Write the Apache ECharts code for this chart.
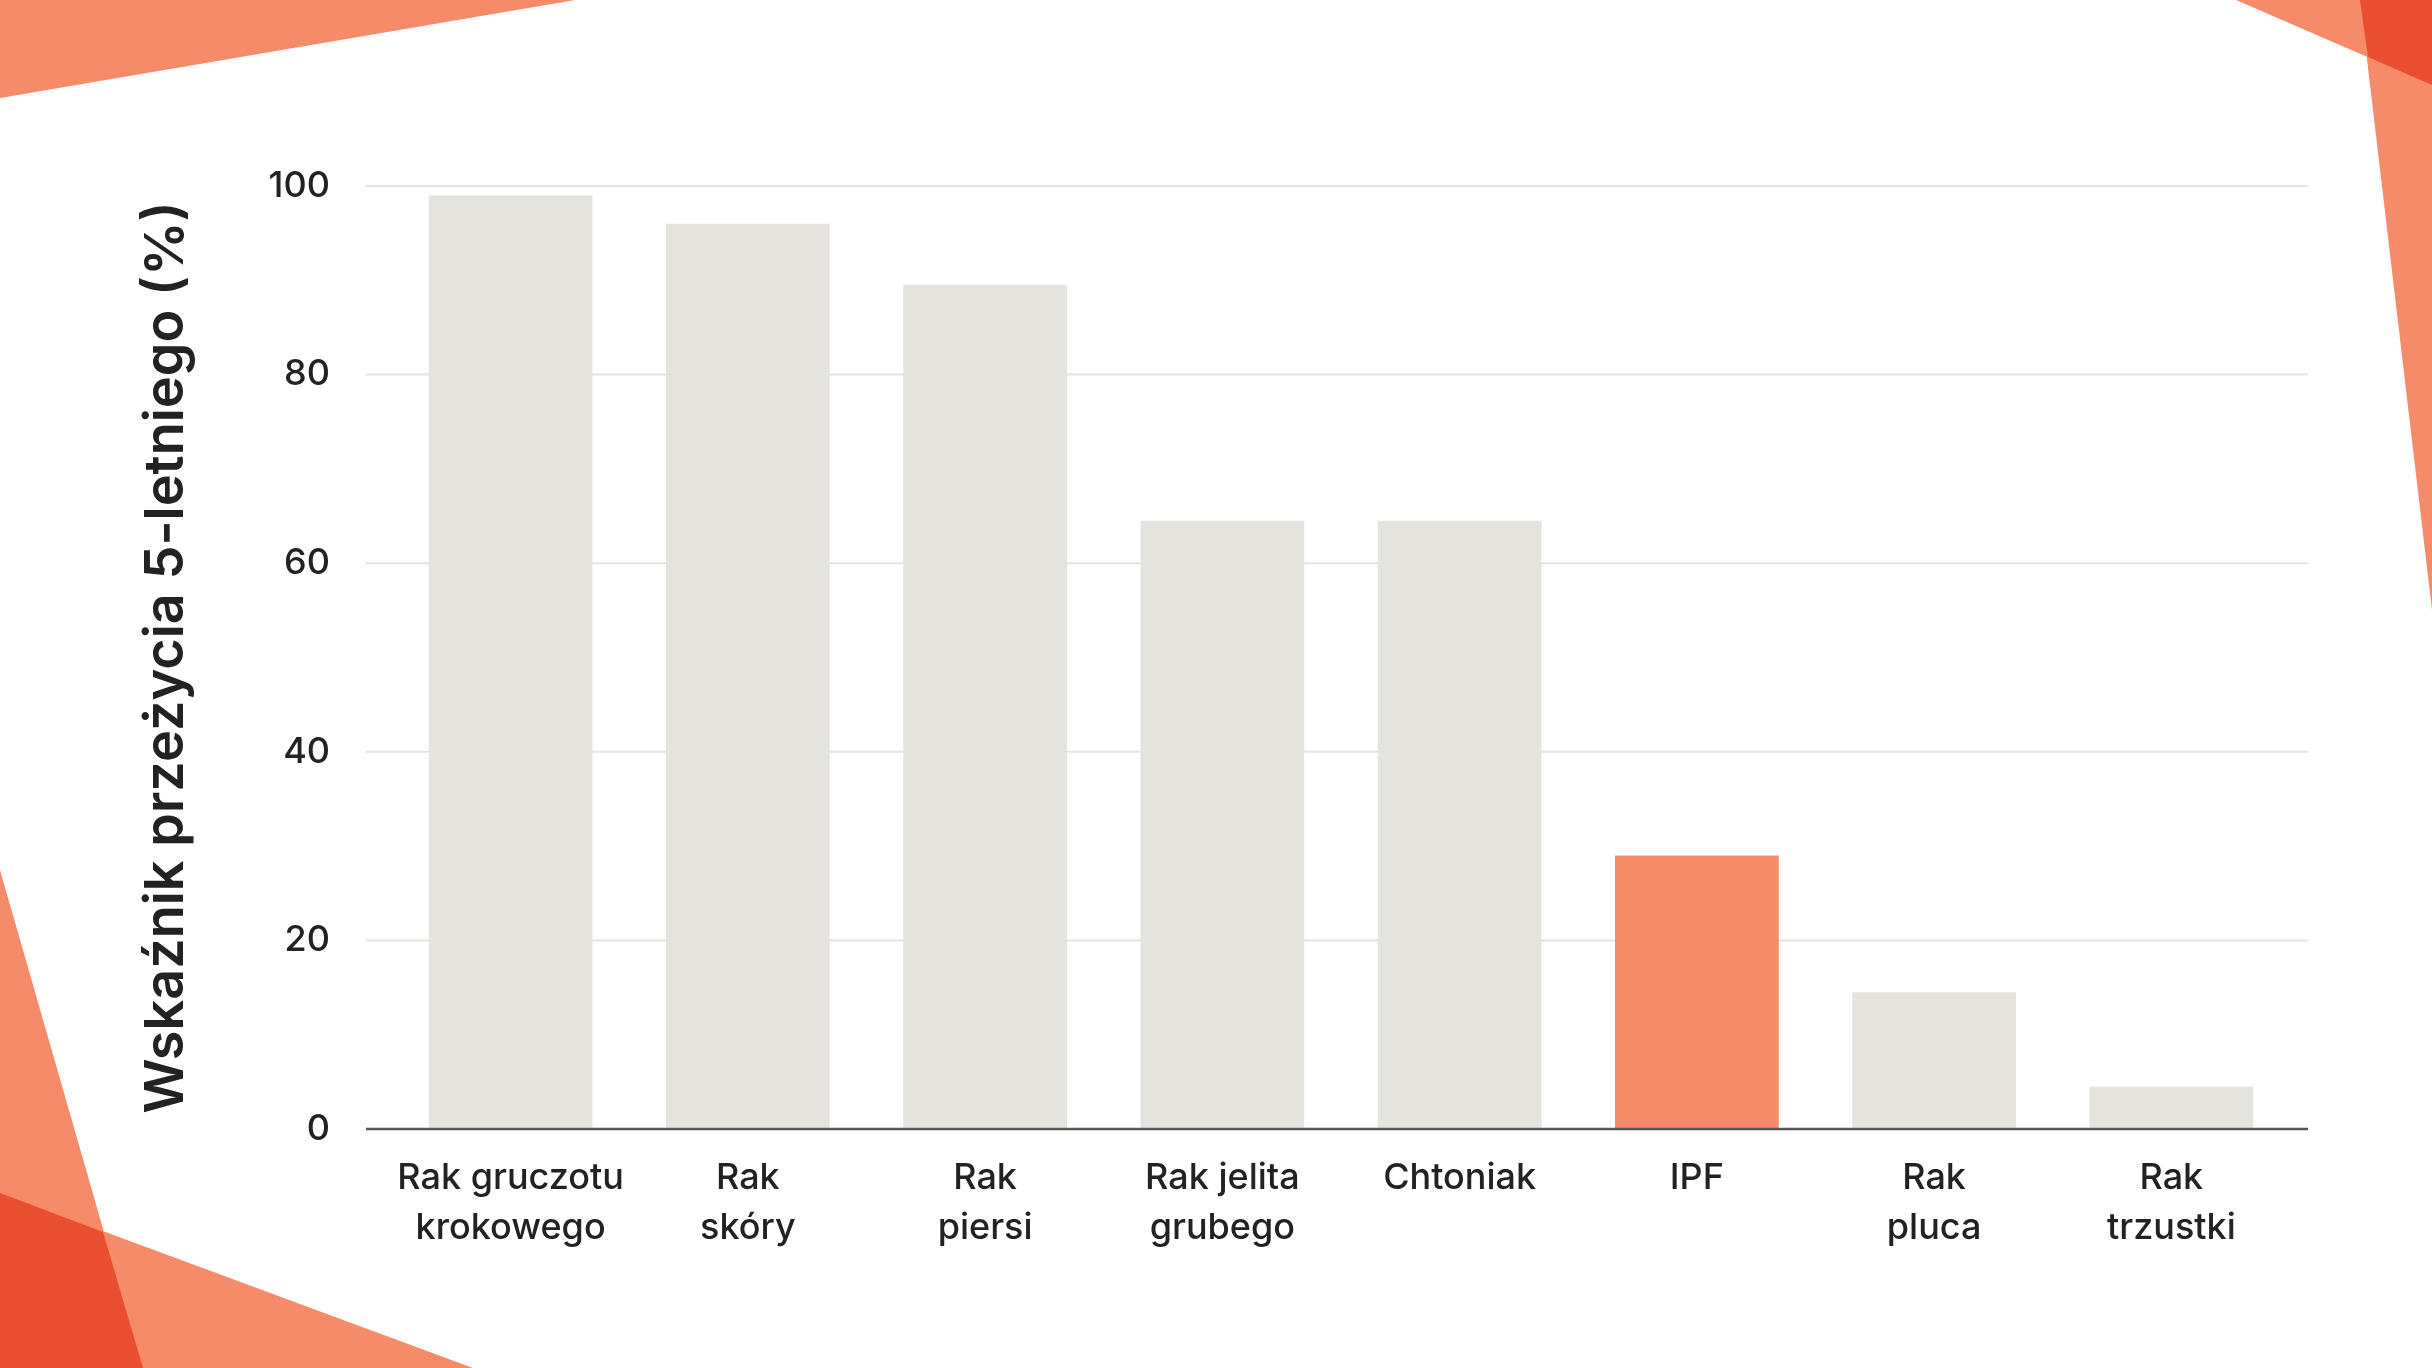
<!DOCTYPE html>
<html><head><meta charset="utf-8">
<script src="https://cdn.jsdelivr.net/npm/echarts@6/dist/echarts.min.js"></script>
<style>html,body{margin:0;padding:0;background:#fff}#c{width:2432px;height:1368px}</style>
</head><body><div id="c"></div>
<script>
const categories = ['Rak gruczotu\nkrokowego','Rak\nskóry','Rak\npiersi','Rak jelita\ngrubego','Chtoniak','IPF','Rak\npluca','Rak\ntrzustki'];
const values = [99, 96, 89.5, 64.5, 64.5, 29, 14.5, 4.5];
const highlight = 'IPF';
const yTicks = [0, 20, 40, 60, 80, 100];
const light = '#f58b68', dark = '#e94e2e';
const chart = echarts.init(document.getElementById('c'));
chart.setOption({
  animation:false,
  textStyle:{fontFamily:'Inter'},
  grid:{left:392,right:142,top:186,bottom:239},
  xAxis:{type:'category',data:categories,
    axisLine:{show:false},axisTick:{show:false},
    axisLabel:{interval:0,color:'#222',fontSize:36,fontWeight:500,lineHeight:50,margin:24,verticalAlign:'top'}},
  yAxis:{type:'value',min:0,max:100,interval:20,
    name:'Wskaźnik przeżycia 5-letniego (%)',nameLocation:'middle',nameGap:198,
    nameTextStyle:{color:'#222',fontSize:54,fontWeight:600},
    axisLabel:{color:'#222',fontSize:36,fontWeight:500,margin:62,formatter:v=>yTicks.includes(v)?String(v):''},
    splitLine:{show:false},axisLine:{show:false},axisTick:{show:false}},
  series:[{type:'bar',barWidth:'69%',
    data:values.map((v,i)=>({value:v,itemStyle:{color:categories[i]===highlight?light:'#e4e3de'}})),
    markLine:{silent:true,symbol:'none',label:{show:false},
      data:yTicks.map(t=>({yAxis:t,x:366,x2:2308,
        lineStyle:{type:'solid',color:t===0?'#555':'#e4e3de',width:t===0?2.5:2}}))}.data.length?undefined:undefined}],
  graphic:[
    {type:'polygon',shape:{points:[[0,0],[575,0],[0,98]]},style:{fill:light},z:-1},
    {type:'polygon',shape:{points:[[2236,0],[2432,0],[2432,85]]},style:{fill:light},z:-1},
    {type:'polygon',shape:{points:[[2360,0],[2432,0],[2432,610]]},style:{fill:light},z:-1},
    {type:'polygon',shape:{points:[[2360,0],[2432,0],[2432,85],[2368,57]]},style:{fill:dark},z:-1},
    {type:'polygon',shape:{points:[[0,870],[143,1368],[0,1368]]},style:{fill:light},z:-1},
    {type:'polygon',shape:{points:[[0,1193],[473,1368],[0,1368]]},style:{fill:light},z:-1},
    {type:'polygon',shape:{points:[[0,1193],[103,1232],[143,1368],[0,1368]]},style:{fill:dark},z:-1}
  ]
});
// grid lines spanning full width, positioned through the value axis scale
const lines = yTicks.map(t=>{
  const y = chart.convertToPixel({yAxisIndex:0}, t);
  return {type:'line',shape:{x1:366,y1:y,x2:2308,y2:y},
    style:{stroke:t===0?'#555':'#e4e3de',lineWidth:t===0?2.5:2},z:t===0?10:-2};
});
chart.setOption({graphic:chart.getOption().graphic[0].elements.concat(lines)});
</script></body></html>
